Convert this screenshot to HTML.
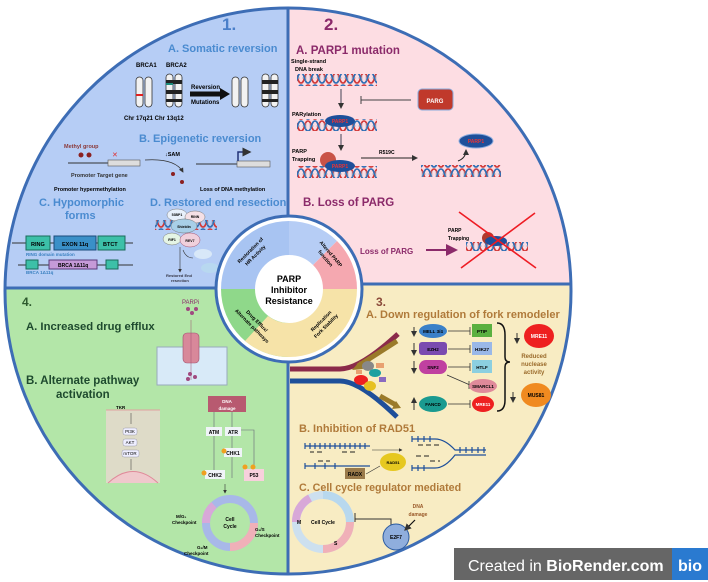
<!DOCTYPE html>
<html><head><meta charset="utf-8"><style>
html,body{margin:0;padding:0;background:#fff;width:708px;height:582px;overflow:hidden}
svg{display:block;font-family:"Liberation Sans",sans-serif}
.b{font-weight:bold}
</style></head><body>
<svg width="708" height="582" viewBox="0 0 708 582" xmlns="http://www.w3.org/2000/svg">
<defs>
<clipPath id="c"><circle cx="288" cy="291" r="283"/></clipPath>
<pattern id="dna" width="14" height="12" patternUnits="userSpaceOnUse">
<path d="M0 1 C4 1 3 11 7 11 C11 11 10 1 14 1" fill="none" stroke="#d23a3a" stroke-width="1.6"/>
<path d="M0 11 C4 11 3 1 7 1 C11 1 10 11 14 11" fill="none" stroke="#2f6fb5" stroke-width="1.6"/>
<path d="M2 3V9M5 5V7M9 5V7M12 3V9" stroke="#9ab" stroke-width="0.6"/>
</pattern>
<marker id="ah" markerWidth="6" markerHeight="6" refX="5" refY="3" orient="auto"><path d="M0 0L6 3L0 6z" fill="#333"/></marker>
<marker id="ahp" markerWidth="6" markerHeight="6" refX="5" refY="3" orient="auto"><path d="M0 0L6 3L0 6z" fill="#8b2a6a"/></marker>
</defs>
<g clip-path="url(#c)">
<rect x="0" y="0" width="288" height="288" fill="#b6cdf5"/>
<rect x="288" y="0" width="420" height="284" fill="#fddde3"/>
<rect x="288" y="284" width="420" height="300" fill="#f8ecc3"/>
<rect x="0" y="288" width="288" height="300" fill="#b3e6a8"/>
<line x1="288" y1="0" x2="288" y2="582" stroke="#3d6db5" stroke-width="3"/>
<line x1="0" y1="288" x2="288" y2="288" stroke="#3d6db5" stroke-width="3"/>
<line x1="288" y1="284" x2="708" y2="284" stroke="#3d6db5" stroke-width="3"/>
</g>
<circle cx="288" cy="291" r="283" fill="none" stroke="#3d6db5" stroke-width="3"/>

<!-- Quadrant 1 -->
<text x="222" y="30" font-size="17" class="b" fill="#4a7fc9">1.</text>
<text x="168" y="52" font-size="11" class="b" fill="#4a8bd0">A. Somatic reversion</text>
<text x="136" y="67" font-size="6" class="b">BRCA1</text><text x="166" y="67" font-size="6" class="b">BRCA2</text>
<g fill="#f2f2f2" stroke="#333" stroke-width="0.8">
<rect x="136" y="77" width="7" height="30" rx="3.5"/><rect x="145" y="77" width="7" height="30" rx="3.5"/>
<rect x="166" y="74" width="7" height="33" rx="3.5"/><rect x="175" y="74" width="7" height="33" rx="3.5"/>
<rect x="232" y="77" width="7" height="30" rx="3.5"/><rect x="241" y="77" width="7" height="30" rx="3.5"/>
<rect x="262" y="74" width="7" height="33" rx="3.5"/><rect x="271" y="74" width="7" height="33" rx="3.5"/>
</g>
<g fill="#222"><rect x="166" y="80" width="16" height="4"/><rect x="166" y="90" width="16" height="4"/><rect x="166" y="99" width="16" height="3"/>
<rect x="262" y="80" width="16" height="4"/><rect x="262" y="90" width="16" height="4"/><rect x="262" y="99" width="16" height="3"/></g>
<rect x="136" y="94" width="7" height="2" fill="#e02020"/><rect x="166" y="83" width="7" height="2" fill="#1a8a7a"/>
<path d="M190 94H222" stroke="#111" stroke-width="5"/><path d="M220 88L230 94L220 100z" fill="#111"/>
<text x="191" y="89" font-size="6" class="b">Reversion</text><text x="191" y="104" font-size="6" class="b">Mutations</text>
<text x="124" y="120" font-size="6" class="b">Chr 17q21  Chr 13q12</text>
<text x="139" y="142" font-size="11" class="b" fill="#4a8bd0">B. Epigenetic reversion</text>
<text x="64" y="148" font-size="5.5" class="b" fill="#8b3a3a">Methyl group</text>
<path d="M68 163H140" stroke="#333"/><rect x="108" y="160" width="32" height="6" fill="#ddd" stroke="#555" stroke-width="0.6"/>
<circle cx="81" cy="155" r="2.5" fill="#8b2020"/><circle cx="89" cy="155" r="2.5" fill="#8b2020"/>
<text x="112" y="157" font-size="7" fill="#e03030">✕</text>
<text x="71" y="177" font-size="5.5" class="b" fill="#333">Promoter  Target gene</text>
<text x="165" y="156" font-size="5.5" class="b">↓SAM</text>
<path d="M145 160Q175 158 183 172" fill="none" stroke="#333" stroke-width="0.8" marker-end="url(#ah)"/>
<circle cx="173" cy="174" r="2" fill="#8b2020"/><circle cx="182" cy="182" r="2" fill="#8b2020"/>
<path d="M196 164H270" stroke="#333"/><rect x="237" y="161" width="33" height="6" fill="#ddd" stroke="#555" stroke-width="0.6"/>
<path d="M238 161V152H250" stroke="#223377" stroke-width="1.5" fill="none" marker-end="url(#ah)"/>
<text x="54" y="191" font-size="5.5" class="b">Promoter hypermethylation</text>
<text x="200" y="191" font-size="5.5" class="b">Loss of DNA methylation</text>
<text x="39" y="206" font-size="11" class="b" fill="#4a8bd0">C. Hypomorphic</text>
<text x="65" y="219" font-size="11" class="b" fill="#4a8bd0">forms</text>
<text x="150" y="206" font-size="11" class="b" fill="#4a8bd0">D. Restored end resection</text>
<path d="M12 243H133" stroke="#333"/>
<rect x="26" y="236" width="24" height="14" fill="#3cc0a8" stroke="#1a6a5a"/><rect x="54" y="236" width="42" height="14" fill="#3a90c8" stroke="#1a4a7a"/><rect x="98" y="236" width="27" height="14" fill="#3cc0a8" stroke="#1a6a5a"/>
<text x="31" y="246" font-size="5.5" class="b">RING</text><text x="62" y="246" font-size="5.5" class="b">EXON 11q</text><text x="103" y="246" font-size="5.5" class="b">BTCT</text>
<text x="26" y="256" font-size="4.5" class="b" fill="#3a80c0">RING domain mutation</text>
<path d="M18 265H133" stroke="#333"/>
<rect x="26" y="260" width="12" height="9" fill="#3cc0a8" stroke="#1a6a5a"/><rect x="49" y="260" width="48" height="9" fill="#c59ad8" stroke="#5a3a7a"/><rect x="106" y="260" width="12" height="9" fill="#3cc0a8" stroke="#1a6a5a"/>
<text x="58" y="267" font-size="5" class="b">BRCA 1Δ11q</text>
<text x="26" y="274" font-size="4.5" class="b" fill="#3a80c0">BRCA 1Δ11q</text>
<rect x="155" y="220" width="62" height="10" fill="url(#dna)"/>
<ellipse cx="177" cy="215" rx="10" ry="6" fill="#e8f0fb" stroke="#777" stroke-width="0.5"/><ellipse cx="195" cy="217" rx="10" ry="6" fill="#f5e0e6" stroke="#777" stroke-width="0.5"/>
<ellipse cx="184" cy="226" rx="13" ry="7" fill="#a8cfe8" stroke="#777" stroke-width="0.5"/>
<ellipse cx="172" cy="239" rx="9" ry="6" fill="#e5f5e5" stroke="#777" stroke-width="0.5"/><ellipse cx="190" cy="240" rx="10" ry="7" fill="#f0d0dc" stroke="#a05070" stroke-width="0.5"/>
<g font-size="3.5" class="b" text-anchor="middle"><text x="177" y="216">53BP1</text><text x="195" y="218">RINN</text><text x="184" y="228">Shieldin</text><text x="172" y="241">RIF1</text><text x="190" y="242">REV7</text></g>
<path d="M180 247V272" stroke="#333" stroke-width="0.6" marker-end="url(#ah)"/>
<path d="M183 250Q186 258 193 258" stroke="#333" stroke-width="0.6" fill="none"/>
<ellipse cx="203" cy="254" rx="9" ry="5" fill="#d8e8f8"/><ellipse cx="210" cy="268" rx="9" ry="5" fill="#b8d8f0"/>
<text x="166" y="277" font-size="4" class="b" fill="#334">Restored End</text><text x="171" y="282" font-size="4" class="b" fill="#334">resection</text>

<!-- Quadrant 2 -->
<text x="324" y="30" font-size="17" class="b" fill="#8b2a6a">2.</text>
<text x="296" y="54" font-size="11.5" class="b" fill="#8b2a6a">A. PARP1 mutation</text>
<text x="291" y="63" font-size="5.5" class="b">Single-strand</text><text x="295" y="71" font-size="5.5" class="b">DNA break</text>
<rect x="297" y="74" width="80" height="12" fill="url(#dna)"/>
<path d="M341 89V108" stroke="#445" marker-end="url(#ah)"/>
<path d="M361 100H411M361 96V104" stroke="#444"/>
<rect x="418" y="89" width="35" height="21" rx="4" fill="#c0392b" stroke="#88aadd"/>
<text x="435" y="103" font-size="6" class="b" fill="#fff" text-anchor="middle">PARG</text>
<text x="292" y="116" font-size="5.5" class="b">PARylation</text>
<rect x="297" y="119" width="80" height="12" fill="url(#dna)"/>
<ellipse cx="340" cy="121" rx="15" ry="6" fill="#1e4f9a"/><text x="340" y="123" font-size="5" class="b" fill="#e33" text-anchor="middle">PARP1</text>
<path d="M341 134V150" stroke="#445" marker-end="url(#ah)"/>
<text x="292" y="153" font-size="5.5" class="b">PARP</text><text x="292" y="161" font-size="5.5" class="b">Trapping</text>
<rect x="297" y="166" width="80" height="12" fill="url(#dna)"/>
<circle cx="328" cy="160" r="8" fill="#c0392b" opacity="0.85"/>
<ellipse cx="340" cy="166" rx="15" ry="6" fill="#1e4f9a"/><text x="340" y="168" font-size="5" class="b" fill="#e33" text-anchor="middle">PARP1</text>
<path d="M361 158H417" stroke="#222" marker-end="url(#ah)"/><text x="379" y="154" font-size="5" class="b">R519C</text>
<rect x="421" y="165" width="80" height="12" fill="url(#dna)"/>
<ellipse cx="476" cy="141" rx="17" ry="7" fill="#1e4f9a" stroke="#88aadd"/><text x="476" y="143" font-size="5" class="b" fill="#e33" text-anchor="middle">PARP1</text>
<path d="M458 161Q466 158 466 150" fill="none" stroke="#222" marker-end="url(#ah)"/>
<text x="303" y="206" font-size="11.5" class="b" fill="#8b2a6a">B. Loss of PARG</text>
<text x="360" y="254" font-size="8" class="b" fill="#8b2a6a">Loss of PARG</text>
<path d="M426 250H456" stroke="#8b2a6a" stroke-width="2" marker-end="url(#ahp)"/>
<text x="448" y="232" font-size="5" class="b">PARP</text><text x="448" y="240" font-size="5" class="b">Trapping</text>
<rect x="466" y="242" width="62" height="9" fill="url(#dna)"/>
<circle cx="488" cy="238" r="6" fill="#b03a2e"/><ellipse cx="496" cy="241" rx="11" ry="5" fill="#1e4f9a"/>
<path d="M459 212L536 268M535 213L461 268" stroke="#ee1c24" stroke-width="1.6"/>

<!-- Quadrant 3 -->
<text x="376" y="306" font-size="12" class="b" fill="#8b4a3a">3.</text>
<text x="366" y="318" font-size="11" class="b" fill="#b07a3a">A. Down regulation of fork remodeler</text>
<path d="M290 369H340Q360 369 398 334" fill="none" stroke="#8b2a4a" stroke-width="5"/>
<path d="M290 381H340Q360 381 397 417" fill="none" stroke="#1e4f9a" stroke-width="5"/>
<path d="M397 341L358 366" stroke="#9a7a2a" stroke-width="5"/><path d="M352 370L360 361L363 369z" fill="#9a7a2a"/>
<path d="M380 396L396 405" stroke="#9a7a2a" stroke-width="5"/><path d="M401 408L392 409L396 401z" fill="#9a7a2a"/>
<ellipse cx="368" cy="366" rx="6" ry="5" fill="#888"/><ellipse cx="375" cy="373" rx="6" ry="4" fill="#1aa0a0"/>
<ellipse cx="361" cy="380" rx="7" ry="5" fill="#ee2020"/><ellipse cx="370" cy="386" rx="6" ry="5" fill="#e6c020"/>
<rect x="376" y="363" width="8" height="5" fill="#e8a070"/><rect x="379" y="377" width="7" height="5" fill="#8a6ac0"/><rect x="356" y="370" width="6" height="4" fill="#e8a070"/>
<g font-size="4.5" class="b" text-anchor="middle">
<path d="M414 327V336" stroke="#333" marker-end="url(#ah)"/><path d="M414 343V355" stroke="#333" marker-end="url(#ah)"/><path d="M414 361V373" stroke="#333" marker-end="url(#ah)"/><path d="M414 410V398" stroke="#333" marker-end="url(#ah)"/>
<ellipse cx="433" cy="331" rx="14" ry="7" fill="#3a80c8"/><text x="433" y="333">MELL 3/4</text>
<rect x="419" y="342" width="28" height="13" rx="3" fill="#7a4ab0"/><text x="433" y="351">EZH2</text>
<rect x="419" y="360" width="28" height="14" rx="7" fill="#c040a0"/><text x="433" y="369">SNF2</text>
<ellipse cx="433" cy="404" rx="14" ry="8" fill="#1a9a90"/><text x="433" y="406">FANCD</text>
<path d="M448 331H470M470 327V335M448 349H470M470 345V353M448 367H470M470 363V371M448 404H470M470 400V408M447 375L470 385M469 381V389" stroke="#333" stroke-width="0.8"/>
<rect x="472" y="324" width="20" height="13" fill="#5ab040"/><text x="482" y="333">PTIP</text>
<rect x="472" y="342" width="20" height="13" fill="#9ab8e8"/><text x="482" y="351">H3K27</text>
<rect x="472" y="360" width="20" height="13" fill="#8ccfe0"/><text x="482" y="369">HTLF</text>
<ellipse cx="483" cy="386" rx="14" ry="7" fill="#e08a9a"/><text x="483" y="388">SMARCL1</text>
<ellipse cx="483" cy="404" rx="11" ry="8" fill="#ee2020"/><text x="483" y="406" fill="#fff">MRE11</text>
</g>
<path d="M497 323Q505 323 505 335V357Q505 362 510 362Q505 362 505 367V400Q505 411 497 411" fill="none" stroke="#111" stroke-width="1.5"/>
<path d="M517 333V343" stroke="#333" marker-end="url(#ah)"/><path d="M513 392V402" stroke="#333" marker-end="url(#ah)"/>
<ellipse cx="539" cy="336" rx="15" ry="12" fill="#ee2020"/><text x="539" y="338" font-size="5" class="b" fill="#fff" text-anchor="middle">MRE11</text>
<text x="534" y="358" font-size="6" class="b" fill="#9a6a2a" text-anchor="middle">Reduced</text><text x="534" y="366" font-size="6" class="b" fill="#9a6a2a" text-anchor="middle">nuclease</text><text x="534" y="374" font-size="6" class="b" fill="#9a6a2a" text-anchor="middle">activity</text>
<ellipse cx="536" cy="395" rx="15" ry="12" fill="#f08a20"/><text x="536" y="397" font-size="5" class="b" text-anchor="middle">MUS81</text>
<text x="299" y="432" font-size="11" class="b" fill="#b07a3a">B. Inhibition of RAD51</text>
<g stroke="#1e4f9a" stroke-width="1.2" fill="none">
<path d="M305 446H370M305 466H370M305 443V449M310 443V449M315 443V449M320 443V449M325 443V449M330 443V449M335 443V449M340 443V449M345 443V449M350 443V449M355 443V449M360 443V449M365 443V449M305 463V469M315 463V469M325 463V469M335 463V469"/>
<path d="M412 439H435Q445 439 455 450H486M412 468H435Q445 468 455 455H486M412 436V442M418 436V442M424 436V442M430 436V442M460 447V453M466 447V453M472 447V453M478 447V453M484 447V453M412 465V471M418 465V471M424 465V471"/>
</g>
<path d="M355 452H340M322 452H310M318 461H330" stroke="#222" stroke-dasharray="5 3"/>
<path d="M418 445H440M416 456H430M430 461H440" stroke="#222" stroke-dasharray="5 3"/>
<path d="M372 450H402" stroke="#333" stroke-width="0.6" marker-end="url(#ah)"/>
<rect x="345" y="468" width="20" height="11" fill="#9a7a4a"/><text x="355" y="476" font-size="5" class="b" text-anchor="middle">RADX</text>
<path d="M366 474L380 466" stroke="#333" stroke-width="0.6"/>
<ellipse cx="393" cy="462" rx="13" ry="9" fill="#e6c820"/><text x="393" y="464" font-size="4" class="b" text-anchor="middle">RAD51</text>
<text x="299" y="491" font-size="10.7" class="b" fill="#b07a3a">C. Cell cycle regulator mediated</text>
<circle cx="323" cy="522" r="27" fill="none" stroke="#cde0ef" stroke-width="8"/>
<path d="M323 495A27 27 0 0 1 350 522" fill="none" stroke="#b8d8ee" stroke-width="8"/>
<path d="M350 522A27 27 0 0 1 323 549" fill="none" stroke="#f0b0b8" stroke-width="8"/>
<path d="M296 522A27 27 0 0 1 310 498" fill="none" stroke="#d8a8d8" stroke-width="8"/>
<text x="323" y="524" font-size="5" class="b" text-anchor="middle">Cell Cycle</text>
<text x="297" y="524" font-size="5" class="b">M</text><text x="334" y="545" font-size="5" class="b">S</text>
<path d="M355 516V519H391V527" stroke="#333" fill="none"/><path d="M355 513V522" stroke="#333"/>
<circle cx="396" cy="537" r="13" fill="#8faedd" stroke="#2a5aa0"/><text x="396" y="539" font-size="5" class="b" text-anchor="middle">E2F7</text>
<text x="418" y="508" font-size="5" class="b" fill="#9a5a2a" text-anchor="middle">DNA</text><text x="418" y="516" font-size="5" class="b" fill="#9a5a2a" text-anchor="middle">damage</text>
<path d="M415 520L405 530" stroke="#111" stroke-width="1.2" marker-end="url(#ah)"/>

<!-- Quadrant 4 -->
<text x="22" y="306" font-size="12" class="b" fill="#2d5a2d">4.</text>
<text x="26" y="330" font-size="11.3" class="b" fill="#1e4a2e">A. Increased drug efflux</text>
<text x="182" y="304" font-size="6" fill="#8b2a6a">PARPi</text>
<circle cx="188" cy="309" r="2" fill="#a04a80"/><circle cx="196" cy="309" r="2" fill="#a04a80"/><circle cx="192" cy="313" r="2" fill="#a04a80"/>
<rect x="157" y="347" width="70" height="38" fill="#d8eaf8" stroke="#9ab"/>
<rect x="183" y="333" width="16" height="30" rx="4" fill="#d8889a" stroke="#a05070" stroke-width="0.6"/>
<path d="M191 320V380" stroke="#a05070" stroke-width="0.5"/>
<circle cx="190" cy="374" r="2" fill="#a04a80"/><circle cx="195" cy="377" r="2" fill="#a04a80"/><circle cx="188" cy="379" r="2" fill="#a04a80"/>
<text x="26" y="384" font-size="11.5" class="b" fill="#1e4a2e">B. Alternate pathway</text>
<text x="56" y="398" font-size="11.5" class="b" fill="#1e4a2e">activation</text>
<rect x="106" y="410" width="54" height="73" fill="#e8d8d0" opacity="0.8"/>
<path d="M106 410H160" stroke="#e0a0a0"/><text x="116" y="409" font-size="4.5" class="b">TKR</text>
<path d="M108 483Q133 460 158 483" fill="#f0c8cc" stroke="#e08a9a"/>
<g font-size="4.5" text-anchor="middle" stroke="#889" stroke-width="0.4" fill="#eef">
<rect x="123" y="428" width="14" height="7" rx="2"/><rect x="123" y="439" width="14" height="7" rx="2"/><rect x="122" y="450" width="17" height="7" rx="2"/></g>
<g font-size="4.5" text-anchor="middle"><text x="130" y="433">PI3K</text><text x="130" y="444">AKT</text><text x="130" y="455">mTOR</text></g>
<path d="M131 413V424M131 459V470" stroke="#333" stroke-width="0.5"/>
<rect x="208" y="396" width="38" height="16" fill="#b85a70"/>
<text x="227" y="403" font-size="4.5" class="b" fill="#fff" text-anchor="middle">DNA</text><text x="227" y="410" font-size="4.5" class="b" fill="#fff" text-anchor="middle">damage</text>
<path d="M214 412V470M232 412V428M232 436V478M240 430H254V468" stroke="#667" stroke-width="0.6" fill="none"/>
<g font-size="5" class="b" text-anchor="middle">
<rect x="206" y="427" width="16" height="9" fill="#f0f4f8"/><text x="214" y="434">ATM</text>
<rect x="225" y="427" width="16" height="9" fill="#f0f4f8"/><text x="233" y="434">ATR</text>
<rect x="224" y="448" width="18" height="9" fill="#f0f4f8"/><text x="233" y="455">CHK1</text>
<rect x="205" y="470" width="20" height="9" fill="#f0f4f8"/><text x="215" y="477">CHK2</text>
<rect x="244" y="469" width="20" height="12" fill="#f8d0dc"/><text x="254" y="477">P53</text>
</g>
<circle cx="224" cy="451" r="2.5" fill="#f0a020"/><circle cx="204" cy="473" r="2.5" fill="#f0a020"/><circle cx="245" cy="467" r="2.5" fill="#f0a020"/><circle cx="253" cy="467" r="2.5" fill="#f0a020"/>
<path d="M225 484V493" stroke="#333" stroke-width="0.6" marker-end="url(#ah)"/>
<circle cx="230" cy="523" r="24" fill="none" stroke="#a8b8e8" stroke-width="8"/>
<path d="M254 523A24 24 0 0 1 230 547" fill="none" stroke="#f0b0b8" stroke-width="8"/>
<path d="M206 523A24 24 0 0 1 214 505" fill="none" stroke="#d8a8d8" stroke-width="8"/>
<text x="230" y="521" font-size="5" class="b" text-anchor="middle">Cell</text><text x="230" y="528" font-size="5" class="b" text-anchor="middle">Cycle</text>
<g font-size="4.5" class="b"><text x="176" y="518">M/G₁</text><text x="172" y="524">Checkpoint</text><text x="255" y="531">G₁/S</text><text x="255" y="537">Checkpoint</text><text x="197" y="549">G₂/M</text><text x="184" y="555">Checkpoint</text></g>

<!-- centre -->
<circle cx="289" cy="289" r="73" fill="#fff" stroke="#3d6db5" stroke-width="3"/>
<path d="M289 221A68 68 0 0 1 337 241L313 265A34 34 0 0 0 289 255z" fill="#b6cdf5"/>
<path d="M221 289A68 68 0 0 1 289 221L289 255A34 34 0 0 0 255 289z" fill="#a8c4f2"/>
<path d="M337 241A68 68 0 0 1 357 289L323 289A34 34 0 0 0 313 265z" fill="#f5a8b0"/>
<path d="M357 289A68 68 0 0 1 289 357L289 323A34 34 0 0 0 323 289z" fill="#f6e3a8"/>
<path d="M289 357A68 68 0 0 1 221 289L255 289A34 34 0 0 0 289 323z" fill="#8fd88a"/>
<path d="M289 357A68 68 0 0 1 245 341L268 316A34 34 0 0 0 289 323z" fill="#f6e3a8"/>
<circle cx="289" cy="289" r="33" fill="#fff"/>
<text x="289" y="282" font-size="9" class="b" text-anchor="middle">PARP</text>
<text x="289" y="293" font-size="9" class="b" text-anchor="middle">Inhibitor</text>
<text x="289" y="304" font-size="9" class="b" text-anchor="middle">Resistance</text>
<g font-size="5" class="b" text-anchor="middle">
<g transform="translate(289,289) rotate(-45)"><text x="0" y="-53">Restoration of</text><text x="0" y="-46">HR Activity</text></g>
<g transform="translate(289,289) rotate(50)"><text x="0" y="-53">Altered PARP</text><text x="0" y="-46">function</text></g>
<g transform="translate(289,289) rotate(135)"><text x="0" y="-53" transform="rotate(180 0 -50)">Replication</text><text x="0" y="-46" transform="rotate(180 0 -50)">Fork Stability</text></g>
<g transform="translate(289,289) rotate(-135)"><text x="0" y="-53" transform="rotate(180 0 -50)">Drug Efflux/</text><text x="0" y="-46" transform="rotate(180 0 -50)">Alternate pathways</text></g>
</g>

<!-- BioRender banner -->
<rect x="454" y="548" width="220" height="32" fill="#666"/>
<rect x="672" y="548" width="36" height="32" fill="#2a7ad0"/>
<text x="468" y="571" font-size="16" fill="#fff">Created in <tspan font-weight="bold">BioRender.com</tspan></text>
<text x="678" y="571" font-size="16" class="b" fill="#fff">bio</text>
</svg>
</body></html>
